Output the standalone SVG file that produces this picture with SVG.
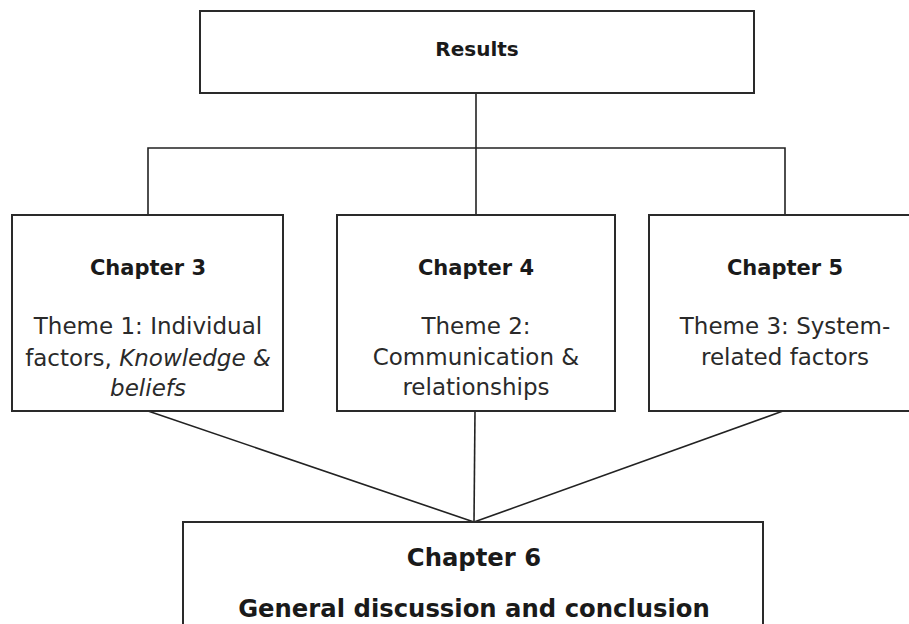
<svg xmlns="http://www.w3.org/2000/svg" width="909" height="624" viewBox="0 0 909 624">
  <style>
    .box { fill: #ffffff; stroke: #2a2a2a; stroke-width: 2; }
    .conn { fill: none; stroke: #222222; stroke-width: 1.6; }
    .t { font-family: "DejaVu Sans", Verdana, sans-serif; text-anchor: middle; fill: #1a1a1a; }
    .head { font-weight: bold; font-size: 21px; }
    .body { font-size: 23px; fill: #2a2a2a; }
    .it { font-style: italic; }
    .big { font-size: 24.3px; }
  </style>
  <rect width="909" height="624" fill="#ffffff"/>

  <g id="connectors">
    <line class="conn" x1="476" y1="93" x2="476" y2="215"/>
    <polyline class="conn" points="148,215 148,148 785,148 785,215"/>
    <line class="conn" x1="148" y1="411" x2="474" y2="522"/>
    <line class="conn" x1="475" y1="411" x2="474" y2="522"/>
    <line class="conn" x1="783" y1="411" x2="474" y2="522"/>
  </g>

  <g id="results">
    <rect class="box" x="200" y="11" width="554" height="82"/>
    <text class="t head" x="477" y="56" style="font-size:20px">Results</text>
  </g>

  <g id="chapter3">
    <rect class="box" x="12" y="215" width="271" height="196"/>
    <text class="t head" x="148" y="275">Chapter 3</text>
    <text class="t body" x="148" y="334">Theme 1: Individual</text>
    <text class="t body" x="148" y="366">factors, <tspan class="it">Knowledge &amp;</tspan></text>
    <text class="t body it" x="148" y="396">beliefs</text>
  </g>

  <g id="chapter4">
    <rect class="box" x="337" y="215" width="278" height="196"/>
    <text class="t head" x="476" y="275">Chapter 4</text>
    <text class="t body" x="476" y="334">Theme 2:</text>
    <text class="t body" x="476" y="365">Communication &amp;</text>
    <text class="t body" x="476" y="395">relationships</text>
  </g>

  <g id="chapter5">
    <rect class="box" x="649" y="215" width="272" height="196"/>
    <text class="t head" x="785" y="275">Chapter 5</text>
    <text class="t body" x="785" y="334">Theme 3: System-</text>
    <text class="t body" x="785" y="365">related factors</text>
  </g>

  <g id="chapter6">
    <rect class="box" x="183" y="522" width="580" height="120"/>
    <text class="t head big" x="474" y="566">Chapter 6</text>
    <text class="t head big" x="474" y="617">General discussion and conclusion</text>
  </g>
</svg>
